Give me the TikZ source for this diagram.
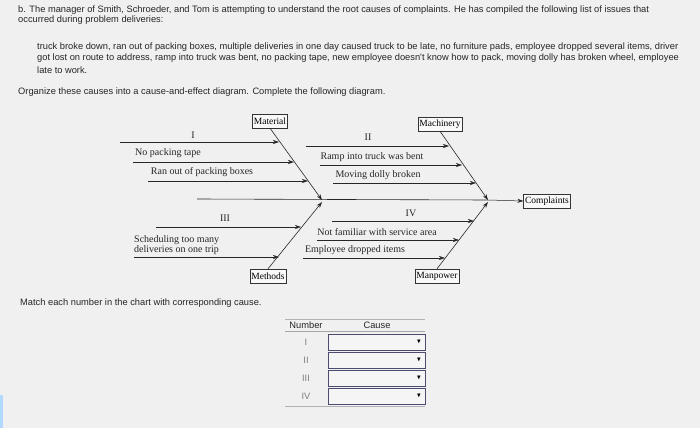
\documentclass[tikz,border=0pt]{standalone}
\usepackage{amssymb}
\usepackage{fontspec}
\setmainfont{Liberation Serif}
\newfontfamily\sansf{Liberation Sans}
\usetikzlibrary{arrows.meta}
\begin{document}
\begin{tikzpicture}[x=1pt,y=-1pt,
  bone/.style={draw=black!85,line width=0.6pt},
  sub/.style={draw=black!85,line width=0.5pt,-{Stealth[length=6pt,width=4pt]}},
  cat/.style={draw=black!80,fill=white!95!gray,font=\fontsize{9.5}{10}\selectfont,inner sep=1.5pt,minimum height=14pt},
  lbl/.style={font=\fontsize{10}{10}\selectfont,inner sep=0pt,text=black!85},
  txt/.style={font=\sansf\fontsize{9.3}{10}\selectfont,inner sep=0pt,anchor=west,text=black!85},
  ddbox/.style={draw=blue!20!black!70,fill=white!92!gray,minimum width=97pt,minimum height=16pt,inner sep=0pt,line width=0.6pt}]
\fill[gray!12] (0,0) rectangle (700,428);
\useasboundingbox (0,0) rectangle (700,428);
\fill[blue!50!cyan!30] (0,395) rectangle (3,428);
% text
\node[txt] (t1) at (18,10) {b. The manager of Smith, Schroeder, and Tom is attempting to understand the root causes of complaints. He has compiled the following list of issues that};
\node[txt] (t2) at (18,20) {occurred during problem deliveries:};
\node[txt] (t3) at (37,47) {truck broke down, ran out of packing boxes, multiple deliveries in one day caused truck to be late, no furniture pads, employee dropped several items, driver};
\node[txt] (t4) at (37,58) {got lost on route to address, ramp into truck was bent, no packing tape, new employee doesn't know how to pack, moving dolly has broken wheel, employee};
\node[txt] (t5) at (37,70) {late to work.};
\node[txt] (t6) at (18,92) {Organize these causes into a cause-and-effect diagram. Complete the following diagram.};
\node[txt] (t7) at (20,303) {Match each number in the chart with corresponding cause.};
% fishbone
\node[cat] (mat) at (270,121) {Material};
\node[cat] (mac) at (440,124) {Machinery};
\node[cat] (met) at (268,276) {Methods};
\node[cat] (man) at (437,276) {Manpower};
\node[cat] (cmp) at (547,201) {Complaints};
\coordinate (s0) at (197,199);
\coordinate (j1) at (322,200);
\coordinate (j2) at (488,200);
\coordinate (j1b) at (322,202);
\coordinate (j2b) at (488,202);
\draw[bone] (s0) -- (j2);
\draw[sub] (j2) -- (cmp.west);
\draw[bone,-{Stealth[length=6pt,width=4pt]}] (mat.south) -- (j1);
\draw[bone,-{Stealth[length=6pt,width=4pt]}] (mac.south) -- (j2);
\draw[bone,-{Stealth[length=6pt,width=4pt]}] (met.north) -- (j1b);
\draw[bone,-{Stealth[length=6pt,width=4pt]}] (man.north) -- (j2b);
% material subs
\coordinate (a1) at (120,142); \coordinate (a1e) at (279,142);
\coordinate (a2) at (133,162); \coordinate (a2e) at (294,162);
\coordinate (a3) at (148,181); \coordinate (a3e) at (308,181);
\draw[sub] (a1) -- (a1e); \draw[sub] (a2) -- (a2e); \draw[sub] (a3) -- (a3e);
\node[lbl] (la1) at (193,135) {I};
\node[lbl] (la2) at (168,153) {No packing tape};
\node[lbl] (la3) at (202,172) {Ran out of packing boxes};
% machinery
\coordinate (b1) at (306,146); \coordinate (b1e) at (449,146);
\coordinate (b2) at (320,165); \coordinate (b2e) at (462,165);
\coordinate (b3) at (333,183); \coordinate (b3e) at (476,183);
\draw[sub] (b1) -- (b1e); \draw[sub] (b2) -- (b2e); \draw[sub] (b3) -- (b3e);
\node[lbl] (lb1) at (368,137) {II};
\node[lbl] (lb2) at (372,157) {Ramp into truck was bent};
\node[lbl] (lb3) at (378,175) {Moving dolly broken};
% methods
\coordinate (c1) at (156,227); \coordinate (c1e) at (301,227);
\coordinate (c2) at (134,257); \coordinate (c2e) at (279,257);
\draw[sub] (c1) -- (c1e); \draw[sub] (c2) -- (c2e);
\node[lbl] (lc1) at (225,218) {III};
\node[lbl,align=left,anchor=west,font=\fontsize{10}{9.5}\selectfont] (lc2) at (134,245) {Scheduling too many\\deliveries on one trip};
% manpower
\coordinate (d1) at (332,221); \coordinate (d1e) at (474,221);
\coordinate (d2) at (317,240); \coordinate (d2e) at (459,240);
\coordinate (d3) at (303,258); \coordinate (d3e) at (445,258);
\draw[sub] (d1) -- (d1e); \draw[sub] (d2) -- (d2e); \draw[sub] (d3) -- (d3e);
\node[lbl] (ld1) at (411,213) {IV};
\node[lbl] (ld2) at (377,232) {Not familiar with service area};
\node[lbl] (ld3) at (355,250) {Employee dropped items};
% table
\coordinate (h1) at (285,319); \coordinate (h2) at (425,319);
\coordinate (h3) at (285,331); \coordinate (h4) at (425,331);
\coordinate (h5) at (285,406); \coordinate (h6) at (425,406);
\draw[gray!60,line width=0.8pt] (h1) -- (h2);
\draw[gray!70,line width=0.8pt] (h3) -- (h4);
\draw[gray!60,line width=0.8pt] (h5) -- (h6);
\node[txt,anchor=center] (nh) at (306,325) {Number};
\node[txt,anchor=center] (ch) at (377,325) {Cause};
\foreach \i/\r/\y in {1/I/342,2/II/360,3/III/378,4/IV/396}{
  \node[txt,anchor=center,text=gray] (n\i) at (306,\y) {\r};
  \node[ddbox] (dd\i) at (376.5,\y) {};
  \node[font=\fontsize{6}{6}\selectfont,inner sep=0pt] (ar\i) at (419,\y) {$\blacktriangledown$};
}
\end{tikzpicture}
\end{document}
